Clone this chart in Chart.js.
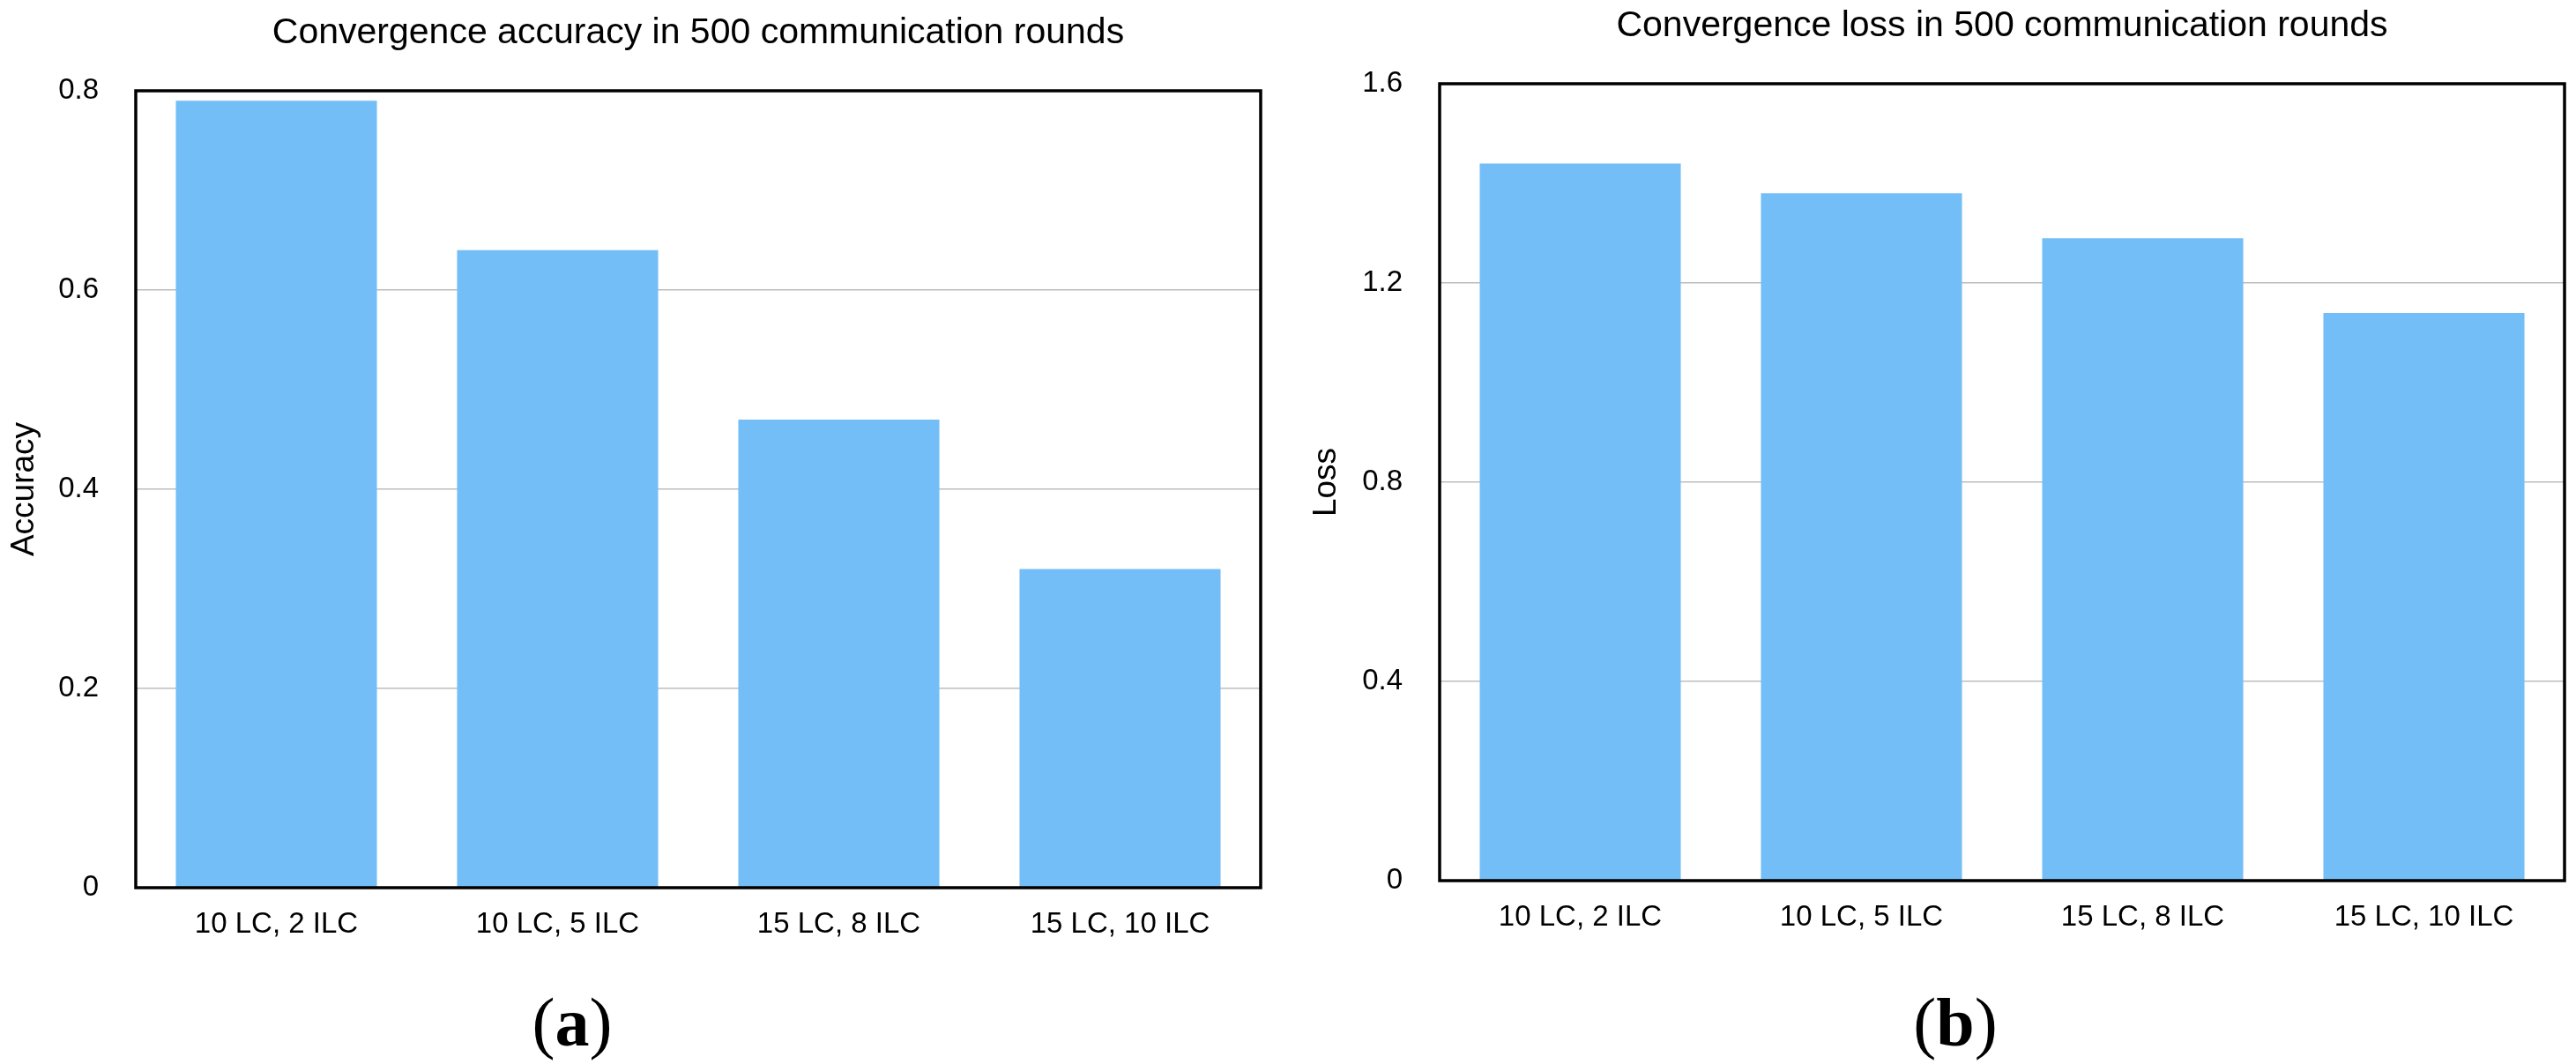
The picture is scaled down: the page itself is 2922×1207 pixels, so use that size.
<!DOCTYPE html>
<html>
<head>
<meta charset="utf-8">
<script src="https://cdn.jsdelivr.net/npm/chart.js@4.4.1/dist/chart.umd.min.js"></script>
<style>
  html, body { margin:0; padding:0; background:#fff; width:2922px; height:1207px; overflow:hidden; }
  .box { position:absolute; top:0; height:1100px; }
  .sub { position:absolute; top:1121px; font-family:"Liberation Serif","DejaVu Serif",serif;
         font-size:78px; line-height:78px; color:#000; transform:translateX(-50%); white-space:nowrap; }
  .sub b { font-weight:bold; }
</style>
</head>
<body>
<div class="box" style="left:0;width:1460px"><canvas id="ch-acc"></canvas></div>
<div class="box" style="left:1460px;width:1462px"><canvas id="ch-loss"></canvas></div>
<div class="sub" style="left:649px">(<b>a</b>)</div>
<div class="sub" style="left:2218px">(<b>b</b>)</div>
<script>
// data
const CATEGORIES = ['10 LC, 2 ILC', '10 LC, 5 ILC', '15 LC, 8 ILC', '15 LC, 10 ILC'];
const ACCURACY   = [0.79, 0.64, 0.47, 0.32];
const LOSS       = [1.44, 1.38, 1.29, 1.14];
const ACC_TICKS  = { min:0, max:0.8, step:0.2 };
const LOSS_TICKS = { min:0, max:1.6, step:0.4 };

const FONT = '"Liberation Sans", Arial, Helvetica, sans-serif';
const BAR  = 'rgb(116,190,248)';

// title centred over the plot area + black frame round it
const areaTitle = {
  id: 'areaTitle',
  afterDraw(chart, args, opts) {
    const { ctx, chartArea: a } = chart;
    ctx.save();
    ctx.font = '41px ' + FONT;
    ctx.fillStyle = '#000';
    ctx.textAlign = 'center';
    ctx.textBaseline = 'alphabetic';
    ctx.fillText(opts.text, (a.left + a.right) / 2, a.top - 54);
    ctx.restore();
  }
};
const frame = {
  id: 'frame',
  afterDatasetsDraw(chart) {
    const { ctx, chartArea: a } = chart;
    ctx.save();
    ctx.strokeStyle = '#000';
    ctx.lineWidth = 3.5;
    ctx.strokeRect(a.left, a.top, a.right - a.left, a.bottom - a.top);
    ctx.restore();
  }
};

function barChart(id, title, yLabel, values, t, pad, yWidth, titlePad) {
  return new Chart(document.getElementById(id), {
    type: 'bar',
    data: { labels: CATEGORIES, datasets: [{
      data: values, backgroundColor: BAR, borderWidth: 0,
      categoryPercentage: 1, barPercentage: 0.715,
    }]},
    plugins: [areaTitle, frame],
    options: {
      responsive: true, maintainAspectRatio: false, animation: false,
      layout: { padding: pad },
      plugins: { legend: { display: false }, tooltip: { enabled: false }, areaTitle: { text: title } },
      scales: {
        x: {
          grid: { display: false, drawTicks: false }, border: { display: false },
          ticks: { color: '#000', font: { family: FONT, size: 33 }, padding: 22, maxRotation: 0 },
          afterFit: s => { s.height = 70; },
        },
        y: {
          min: t.min, max: t.max,
          grid: { color: '#bdbdbd', lineWidth: 1.5, drawTicks: false }, border: { display: false },
          ticks: { stepSize: t.step, color: '#000', font: { family: FONT, size: 33 }, padding: 42 },
          title: { display: true, text: yLabel, color: '#000', font: { family: FONT, size: 37 },
                   padding: { top: titlePad, bottom: 0 } },
          afterFit: s => { s.width = yWidth; },
        },
      },
    },
  });
}

barChart('ch-acc', 'Convergence accuracy in 500 communication rounds', 'Accuracy',
         ACCURACY, ACC_TICKS, { top: 103, right: 30, bottom: 23, left: 0 }, 154, 6);
barChart('ch-loss', 'Convergence loss in 500 communication rounds', 'Loss',
         LOSS, LOSS_TICKS, { top: 95, right: 13, bottom: 31, left: 0 }, 173, 23);
</script>
</body>
</html>
